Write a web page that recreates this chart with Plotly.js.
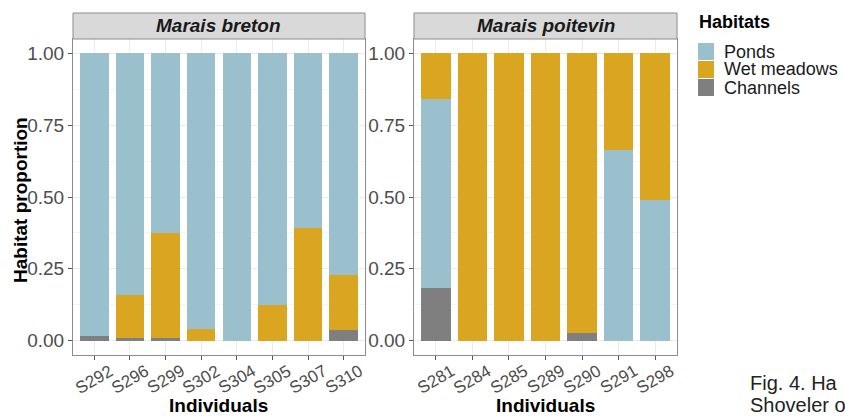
<!DOCTYPE html>
<html><head><meta charset="utf-8">
<script src="https://cdn.plot.ly/plotly-3.0.1.min.js"></script>
<style>html,body{margin:0;padding:0;background:#fff}</style>
</head><body><div id="chart" style="width:845px;height:417px"></div>
<script>
// ---- Data ----
const bretonIds = ['S292','S296','S299','S302','S304','S305','S307','S310'];
const bretonChannels   = [0.015, 0.008, 0.009, 0,     0, 0,     0,     0.038];
const bretonWetMeadows = [0,     0.151, 0.364, 0.039, 0, 0.124, 0.392, 0.190];
const bretonPonds      = [0.985, 0.841, 0.627, 0.961, 1, 0.876, 0.608, 0.772];

const poitevinIds = ['S281','S284','S285','S289','S290','S291','S298'];
const poitevinChannels   = [0.183, 0, 0, 0, 0.027, 0,     0];
const poitevinPonds      = [0.659, 0, 0, 0, 0,     0.663, 0.488];
const poitevinWetMeadows = [0.158, 1, 1, 1, 0.973, 0.337, 0.512];

const facetNames = ['Marais breton', 'Marais poitevin'];
const habitatNames = ['Ponds', 'Wet meadows', 'Channels'];
const yTickVals = [0, 0.25, 0.5, 0.75, 1];
const yTickText = ['0.00', '0.25', '0.50', '0.75', '1.00'];
const captionLines = ['Fig. 4. Ha', 'Shoveler o'];

// ---- Styling ----
const W = 845, H = 417;
const px = x => x / W;
const py = y => (H - y) / H;
const FONT = 'Liberation Sans, Arial, Helvetica, sans-serif';
const colors = {'Ponds': '#9AC0CD', 'Wet meadows': '#DAA520', 'Channels': '#7F7F7F'};

function bar(x, y, name, xa, ya) {
  return {type: 'bar', x: x, y: y, name: name, xaxis: xa, yaxis: ya,
    marker: {color: colors[name], line: {width: 0}}, showlegend: false,
    hoverinfo: 'x+y+name'};
}

const traces = [
  bar(bretonIds, bretonChannels, 'Channels', 'x', 'y'),
  bar(bretonIds, bretonWetMeadows, 'Wet meadows', 'x', 'y'),
  bar(bretonIds, bretonPonds, 'Ponds', 'x', 'y'),
  bar(poitevinIds, poitevinChannels, 'Channels', 'x2', 'y2'),
  bar(poitevinIds, poitevinPonds, 'Ponds', 'x2', 'y2'),
  bar(poitevinIds, poitevinWetMeadows, 'Wet meadows', 'x2', 'y2')
];

const panelY = [py(355), py(39)];
const panels = [[73, 365], [414, 677]];

function xAxis(ids, dom, anchor) {
  return {domain: [px(dom[0]), px(dom[1])], anchor: anchor, type: 'category',
    categoryorder: 'array', categoryarray: ids, range: [-0.6, ids.length - 0.4],
    showline: true, mirror: true, linecolor: '#8C8C8C', linewidth: 1,
    ticks: 'outside', ticklen: 4, tickcolor: '#555', showticklabels: false,
    showgrid: true, gridcolor: '#EBEBEB', zeroline: false, fixedrange: true};
}
function yAxis(dom, anchor) {
  return {domain: dom, anchor: anchor, range: [-0.05, 1.05],
    tickmode: 'array', tickvals: yTickVals, ticktext: yTickText,
    tickfont: {family: FONT, size: 19, color: '#4D4D4D'},
    ticks: 'outside', ticklen: 4, tickcolor: '#555',
    showline: true, mirror: true, linecolor: '#8C8C8C', linewidth: 1,
    showgrid: true, gridcolor: '#EBEBEB', zeroline: false, fixedrange: true,
    minor: {tickmode: 'array', tickvals: [0.125, 0.375, 0.625, 0.875], showgrid: true, gridcolor: '#F4F4F4', ticks: ''}};
}

const annotations = [];
const shapes = [];

// x tick labels (rotated, centered on category)
[[bretonIds, 'x'], [poitevinIds, 'x2']].forEach(([ids, xr]) => {
  ids.forEach(id => annotations.push({xref: xr, yref: 'paper', x: id, y: py(379),
    text: id, textangle: -30, showarrow: false, xanchor: 'center', yanchor: 'middle',
    font: {family: FONT, size: 17, color: '#4D4D4D'}}));
});

// facet strips and x titles
panels.forEach((p, i) => {
  shapes.push({type: 'rect', xref: 'paper', yref: 'paper', x0: px(p[0]), x1: px(p[1]),
    y0: py(39), y1: py(13), fillcolor: '#D9D9D9', line: {color: '#8C8C8C', width: 1}});
  annotations.push({xref: 'paper', yref: 'paper', x: px((p[0] + p[1]) / 2), y: py(26),
    text: '<b><i>' + facetNames[i] + '</i></b>', showarrow: false, xanchor: 'center', yanchor: 'middle',
    font: {family: FONT, size: 19, color: '#1A1A1A'}});
  annotations.push({xref: 'paper', yref: 'paper', x: px((p[0] + p[1]) / 2), y: py(405),
    text: '<b>Individuals</b>', showarrow: false, xanchor: 'center', yanchor: 'middle',
    font: {family: FONT, size: 19, color: '#000'}});
});

// y title
annotations.push({xref: 'paper', yref: 'paper', x: px(20), y: py(200), text: '<b>Habitat proportion</b>',
  textangle: -90, showarrow: false, xanchor: 'center', yanchor: 'middle',
  font: {family: FONT, size: 19, color: '#000'}});

// legend (ggplot-style, compact)
annotations.push({xref: 'paper', yref: 'paper', x: px(697), y: py(22), text: '<b>Habitats</b>',
  showarrow: false, xanchor: 'left', yanchor: 'middle', font: {family: FONT, size: 18, color: '#000'}});
const keyRows = [[43, 60], [61, 78], [79, 96]];
habitatNames.forEach((h, i) => {
  const r = keyRows[i];
  shapes.push({type: 'rect', xref: 'paper', yref: 'paper', x0: px(698), x1: px(714),
    y0: py(r[1]), y1: py(r[0]), fillcolor: colors[h], line: {width: 0}});
  annotations.push({xref: 'paper', yref: 'paper', x: px(722), y: py((r[0] + r[1]) / 2), text: h,
    showarrow: false, xanchor: 'left', yanchor: 'middle', font: {family: FONT, size: 18, color: '#1A1A1A'}});
});

// cut-off figure caption (as seen in the reference)
const captionY = [383, 405];
captionLines.forEach((t, i) => {
  annotations.push({xref: 'paper', yref: 'paper', x: px(748), y: py(captionY[i]), text: t,
    showarrow: false, xanchor: 'left', yanchor: 'middle', font: {family: FONT, size: 20, color: '#222'}});
});

const layout = {
  width: W, height: H, margin: {l: 0, r: 0, t: 0, b: 0},
  paper_bgcolor: '#fff', plot_bgcolor: '#fff',
  barmode: 'stack', bargap: 0.2, showlegend: false,
  font: {family: FONT},
  xaxis: xAxis(bretonIds, panels[0], 'y'),
  yaxis: yAxis(panelY, 'x'),
  xaxis2: xAxis(poitevinIds, panels[1], 'y2'),
  yaxis2: yAxis(panelY, 'x2'),
  shapes: shapes, annotations: annotations
};

Plotly.newPlot('chart', traces, layout, {displayModeBar: false, staticPlot: true});
</script></body></html>
